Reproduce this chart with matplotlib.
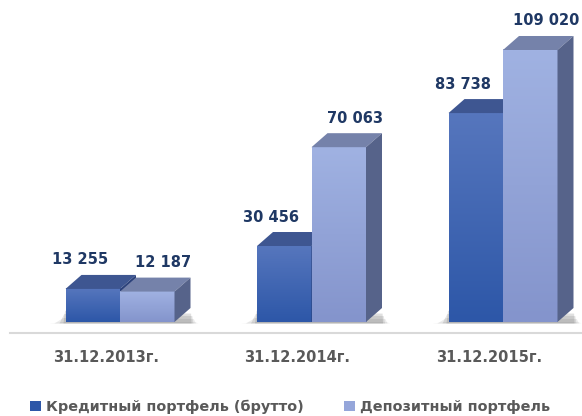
import numpy as np
import matplotlib
matplotlib.use('Agg')
import matplotlib.pyplot as plt
from matplotlib.patches import Polygon, Patch
from matplotlib.colors import to_rgb

# data
dates = ['31.12.2013г.', '31.12.2014г.', '31.12.2015г.']
credit = [13255, 30456, 83738]
deposit = [12187, 70063, 109020]
labels = ['Кредитный портфель (брутто)', 'Депозитный портфель']
credit_lbl = ['13 255', '30 456', '83 738']
deposit_lbl = ['12 187', '70 063', '109 020']

W, H = 582, 416
G = 191.5       # px between groups
S = 0.002495    # px per unit of value
BASE = 322      # baseline, px from top
X0 = 120        # first group centre, px

fig = plt.figure(figsize=(W / 100, H / 100), dpi=100)
ax = fig.add_axes([0, 0, 1, 1])
ax.set_xlim(-X0 / G, (W - X0) / G)
ax.set_ylim((BASE - H) / S, BASE / S)
ax.axis('off')

px = 1 / G      # one pixel in x data units
py = 1 / S      # one pixel in y data units
w = 54.5 * px
dx = 16 * px
dy = 14 * py


def grad(x0, x1, h, c_top, c_bot, z):
    t = np.linspace(0, 1, 64)[:, None]
    a, b = np.array(to_rgb(c_top)), np.array(to_rgb(c_bot))
    img = (a * (1 - t) + b * t)[:, None, :]
    ax.imshow(img, extent=(x0, x1, 0, h), aspect='auto', zorder=z,
              interpolation='bilinear')


def shadow(x0, x1, z):
    # soft shadow under the pair of bars
    for k, a in [(16, 0.06), (11, 0.09), (6, 0.12), (2, 0.15)]:
        ax.add_patch(Polygon([(x0 - k * px, -1.5 * py), (x1 + dx + k * 0.5 * px, -1.5 * py),
                              (x1 + dx + k * 0.3 * px, (16 - k) * 0.6 * py),
                              (x0 - k * 0.2 * px, (16 - k) * 0.8 * py)],
                             closed=True, fc='#303030', ec='none', alpha=a, zorder=z))


def bar3d(x0, h, front, top, side, z):
    x1 = x0 + w
    grad(x0, x1, h, front[0], front[1], z)
    ax.add_patch(Polygon([(x0, h), (x1, h), (x1 + dx, h + dy), (x0 + dx, h + dy)],
                         closed=True, fc=top, ec='none', zorder=z))
    ax.add_patch(Polygon([(x1, 0), (x1 + dx, dy), (x1 + dx, h + dy), (x1, h)],
                         closed=True, fc=side, ec='none', zorder=z))


dark = ('#5676bd', '#2d57a8')
light = ('#a0b2e2', '#8494cc')
for i in range(len(dates)):
    shadow(i - w, i + w, 1.5)
    bar3d(i - w, credit[i], dark, '#3e5691', '#2b417a', 2)
    bar3d(i, deposit[i], light, '#7582aa', '#56638a', 3)
    ax.text(i - w / 2 - 13 * px, credit[i] + dy + 15 * py, credit_lbl[i],
            ha='center', va='center', fontsize=10.5, fontweight='bold', color='#1f3864')
    ax.text(i + w / 2 + 16 * px, deposit[i] + dy + 15 * py, deposit_lbl[i],
            ha='center', va='center', fontsize=10.5, fontweight='bold', color='#1f3864')
    ax.text(i - 14 * px, -36 * py, dates[i], ha='center', va='center',
            fontsize=10.5, fontweight='bold', color='#595959')

# axis line
ax.plot([(10 - X0) / G, (W - X0) / G], [-11 * py, -11 * py], color='#d9d9d9', lw=1.5, zorder=1)

handles = [Patch(fc=dark[1], ec='none'), Patch(fc='#95a6da', ec='none')]
fig.legend(handles, labels, loc='center', bbox_to_anchor=(290 / W, 1 - 407 / H), ncol=2,
           frameon=False, handlelength=0.75, handleheight=0.75, handletextpad=0.35,
           columnspacing=2.8, prop={'size': 10.4, 'weight': 'bold'}, labelcolor='#595959')

fig.savefig('out.png', dpi=100)
